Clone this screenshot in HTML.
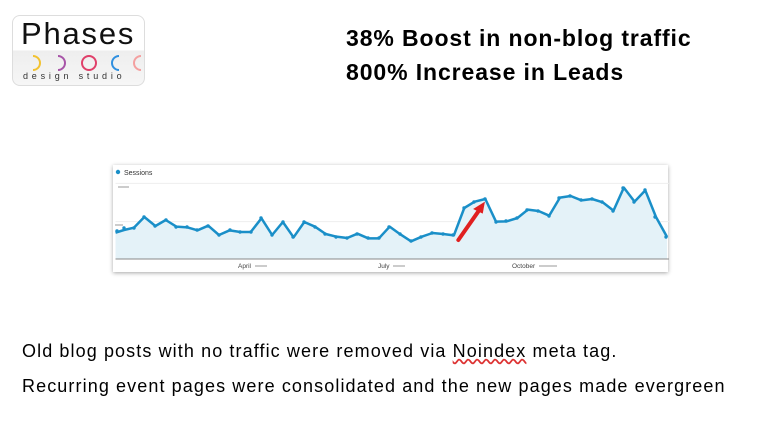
<!DOCTYPE html>
<html><head><meta charset="utf-8"><style>
body{margin:0;width:770px;height:432px;background:#fff;position:relative;overflow:hidden;font-family:"Liberation Sans",sans-serif}
.t{position:absolute;left:346px;font-weight:bold;font-size:23px;letter-spacing:0.9px;color:#000;white-space:nowrap}
.b{position:absolute;left:22px;font-size:18px;letter-spacing:1.1px;color:#000;white-space:nowrap}
#logo{position:absolute;left:12px;top:15px;width:131px;height:69px;border:1px solid #ddd;border-radius:8px;background:linear-gradient(#fff 50%,#eee 50%,#f6f6f6)}
</style></head><body>
<div id="logo">
<div style="position:absolute;left:8px;top:0px;font-size:31px;letter-spacing:1.8px;color:#111">Phases</div>
<svg style="position:absolute;left:0;top:36px" width="131" height="20">
<path d="M20 4 A7 7 0 0 1 20 18" fill="none" stroke="#f2c230" stroke-width="2"/>
<path d="M45 4 A7 7 0 0 1 45 18" fill="none" stroke="#a855a8" stroke-width="2"/>
<circle cx="76" cy="11" r="7" fill="none" stroke="#e0406a" stroke-width="2"/>
<path d="M106 4 A7 7 0 0 0 106 18" fill="none" stroke="#3090e0" stroke-width="2"/>
<path d="M128 4 A7 7 0 0 0 128 18" fill="none" stroke="#f4a0a0" stroke-width="2"/>
</svg>
<div style="position:absolute;left:10px;top:55px;font-size:9px;letter-spacing:3.8px;color:#333">design studio</div>
</div>
<div class="t" style="top:25px">38% Boost in non-blog traffic</div>
<div class="t" style="top:59px">800% Increase in Leads</div>
<div style="position:absolute;left:113px;top:165px;width:555px;height:107px;background:#fff;box-shadow:0 1px 4px rgba(0,0,0,.35)"></div>
<svg style="position:absolute;left:100px;top:155px" width="580" height="125" viewBox="0 0 1570 375" preserveAspectRatio="none">
<line x1="42" y1="85" x2="1540" y2="85" stroke="#eee" vector-effect="non-scaling-stroke"/>
<line x1="42" y1="200" x2="1540" y2="200" stroke="#eee" vector-effect="non-scaling-stroke"/>
<polygon fill="#e4f2f8" points="42,312 42,233 65,225 92,218 120,186 150,213 178,195 207,215 236,217 264,226 293,212 322,240 351,226 380,231 408,231 437,190 466,240 495,201 524,247 553,201 582,215 611,237 640,245 669,249 697,236 726,250 755,250 784,215 813,238 842,259 871,245 900,234 929,237 958,241 986,159 1014,140 1043,132 1072,200 1101,199 1130,189 1158,164 1187,168 1216,182 1245,128 1274,123 1303,136 1332,132 1361,142 1390,167 1418,98 1447,140 1476,106 1505,186 1535,246 1535,312"/>
<polyline fill="none" stroke="#1a8fc8" stroke-width="2.5" vector-effect="non-scaling-stroke" stroke-linejoin="round" points="42,233 65,225 92,218 120,186 150,213 178,195 207,215 236,217 264,226 293,212 322,240 351,226 380,231 408,231 437,190 466,240 495,201 524,247 553,201 582,215 611,237 640,245 669,249 697,236 726,250 755,250 784,215 813,238 842,259 871,245 900,234 929,237 958,241 986,159 1014,140 1043,132 1072,200 1101,199 1130,189 1158,164 1187,168 1216,182 1245,128 1274,123 1303,136 1332,132 1361,142 1390,167 1418,98 1447,140 1476,106 1505,186 1535,246"/>
<line x1="42" y1="312" x2="1540" y2="312" stroke="#888" stroke-width="1" vector-effect="non-scaling-stroke"/>
<line x1="970" y1="255" x2="1030" y2="160" stroke="#e02020" stroke-width="4" vector-effect="non-scaling-stroke" stroke-linecap="round"/>
<polygon points="1042,140 1010,162 1036,176" fill="#e02020"/>
</svg>
<svg style="position:absolute;left:0;top:0" width="770" height="432">
<g fill="#1a8fc8">
<circle cx="117" cy="231" r="1.7"/><circle cx="124" cy="228" r="1.7"/><circle cx="134" cy="228" r="1.7"/><circle cx="144" cy="217" r="1.7"/><circle cx="155" cy="226" r="1.7"/><circle cx="166" cy="220" r="1.7"/><circle cx="176" cy="227" r="1.7"/><circle cx="187" cy="227" r="1.7"/><circle cx="197" cy="230" r="1.7"/><circle cx="208" cy="226" r="1.7"/><circle cx="219" cy="235" r="1.7"/><circle cx="230" cy="230" r="1.7"/><circle cx="240" cy="232" r="1.7"/><circle cx="251" cy="232" r="1.7"/><circle cx="261" cy="218" r="1.7"/><circle cx="272" cy="235" r="1.7"/><circle cx="283" cy="222" r="1.7"/><circle cx="293" cy="237" r="1.7"/><circle cx="304" cy="222" r="1.7"/><circle cx="315" cy="227" r="1.7"/><circle cx="325" cy="234" r="1.7"/><circle cx="336" cy="237" r="1.7"/><circle cx="347" cy="238" r="1.7"/><circle cx="357" cy="234" r="1.7"/><circle cx="368" cy="238" r="1.7"/><circle cx="379" cy="238" r="1.7"/><circle cx="389" cy="227" r="1.7"/><circle cx="400" cy="234" r="1.7"/><circle cx="411" cy="241" r="1.7"/><circle cx="421" cy="237" r="1.7"/><circle cx="432" cy="233" r="1.7"/><circle cx="443" cy="234" r="1.7"/><circle cx="453" cy="235" r="1.7"/><circle cx="464" cy="208" r="1.7"/><circle cx="474" cy="202" r="1.7"/><circle cx="485" cy="199" r="1.7"/><circle cx="496" cy="222" r="1.7"/><circle cx="506" cy="221" r="1.7"/><circle cx="517" cy="218" r="1.7"/><circle cx="527" cy="210" r="1.7"/><circle cx="538" cy="211" r="1.7"/><circle cx="549" cy="216" r="1.7"/><circle cx="559" cy="198" r="1.7"/><circle cx="570" cy="196" r="1.7"/><circle cx="581" cy="200" r="1.7"/><circle cx="592" cy="199" r="1.7"/><circle cx="602" cy="202" r="1.7"/><circle cx="613" cy="211" r="1.7"/><circle cx="623" cy="188" r="1.7"/><circle cx="634" cy="202" r="1.7"/><circle cx="645" cy="190" r="1.7"/><circle cx="655" cy="217" r="1.7"/><circle cx="666" cy="237" r="1.7"/>
<circle cx="118" cy="172" r="2.2"/>
</g>
<text x="124" y="175" font-size="7" fill="#333" font-family="Liberation Sans,sans-serif">Sessions</text>
<text x="238" y="268" font-size="6.5" fill="#444" font-family="Liberation Sans,sans-serif">April</text>
<rect x="255" y="265" width="12" height="2" fill="#ccc"/>
<text x="378" y="268" font-size="6.5" fill="#444" font-family="Liberation Sans,sans-serif">July</text>
<rect x="393" y="265" width="12" height="2" fill="#ccc"/>
<text x="512" y="268" font-size="6.5" fill="#444" font-family="Liberation Sans,sans-serif">October</text>
<rect x="539" y="265" width="18" height="2" fill="#ccc"/>
<rect x="118" y="186" width="11" height="2" fill="#ccc"/>
<rect x="115" y="224" width="8" height="2" fill="#ccc"/>
</svg>
<div class="b" style="top:341px">Old blog posts with no traffic were removed via <span style="text-decoration:underline wavy #d33">Noindex</span> meta tag.</div>
<div class="b" style="top:376px">Recurring event pages were consolidated and the new pages made evergreen</div>
</body></html>
